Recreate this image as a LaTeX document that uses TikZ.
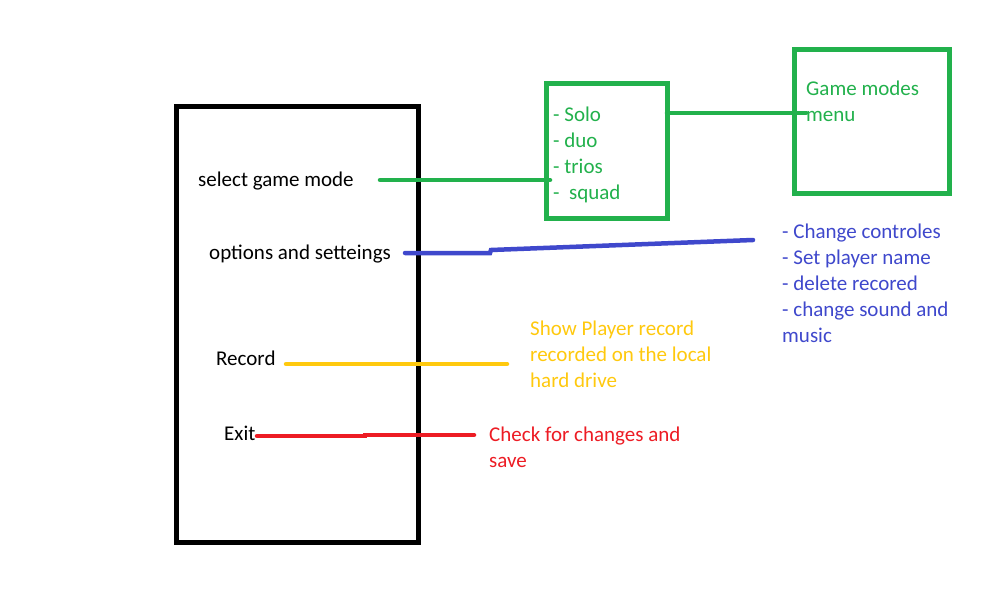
\documentclass[tikz,border=0pt]{standalone}
\usepackage{fontspec}
\setmainfont{Carlito}
\definecolor{pgreen}{HTML}{22B14C}
\definecolor{pblue}{HTML}{3F48CC}
\definecolor{pyellow}{HTML}{FFC90E}
\definecolor{pred}{HTML}{ED1C24}
\begin{document}
\begin{tikzpicture}[x=1pt,y=-1pt,
  txt/.style={anchor=west,inner sep=0pt,align=left,font=\fontsize{21}{26}\selectfont},
  frame/.style={draw,line width=5pt},
  gbox/.style={frame,draw=pgreen,anchor=north west,inner sep=0pt,outer sep=0pt},
  wire/.style={line width=4.5pt}]
\useasboundingbox[fill=white] (0,0) rectangle (984,591);
% main menu box
\draw[frame,black] (176,107) rectangle (418,542);
% green boxes
\node[gbox,minimum width=121pt,minimum height=134pt] (modes) at (546.5,84) {};
\node[gbox,minimum width=155pt,minimum height=143pt] (gmenu) at (794,50) {};
% texts
\node[txt,text=black] (sel) at (198,181) {select game mode};
\node[txt,text=black] (opt) at (209,254) {options and setteings};
\node[txt,text=black] (rec) at (216,358) {Record};
\node[txt,text=black] (ext) at (224,433) {Exit};
\node[txt,text=pgreen] (list) at (553,155) {- Solo\\- duo\\- trios\\-\ \ squad};
\node[txt,text=pgreen] (gm) at (806,101) {Game modes\\menu};
\node[txt,text=pblue] (optl) at (782,283) {- Change controles\\- Set player name\\- delete recored\\- change sound and\\music};
\node[txt,text=pyellow] (recl) at (530,354) {Show Player record\\recorded on the local\\hard drive};
\node[txt,text=pred] (extl) at (489,447) {Check for changes and\\save};
% connector end points
\coordinate (g1a) at (380,180);
\coordinate (g1b) at (550,180);
\coordinate (g2a) at (667,113);
\coordinate (g2b) at (806,113);
\coordinate (b1) at (405,253);
\coordinate (b2) at (490,253);
\coordinate (b3) at (491,250);
\coordinate (b4) at (753,240);
\coordinate (y1) at (286,364);
\coordinate (y2) at (507,364);
\coordinate (r1) at (257,436);
\coordinate (r2) at (365,436);
\coordinate (r3) at (365,435);
\coordinate (r4) at (474,435);
% connectors
\draw[wire,pgreen,line cap=round] (g1a) -- (g1b);
\draw[wire,pgreen,line cap=round] (g2a) -- (g2b);
\draw[wire,pblue,line cap=round] (b1) -- (b2) -- (b3) -- (b4);
\draw[wire,pyellow,line cap=round] (y1) -- (y2);
\draw[wire,pred,line cap=round] (r1) -- (r2) -- (r3) -- (r4);
\end{tikzpicture}
\end{document}
